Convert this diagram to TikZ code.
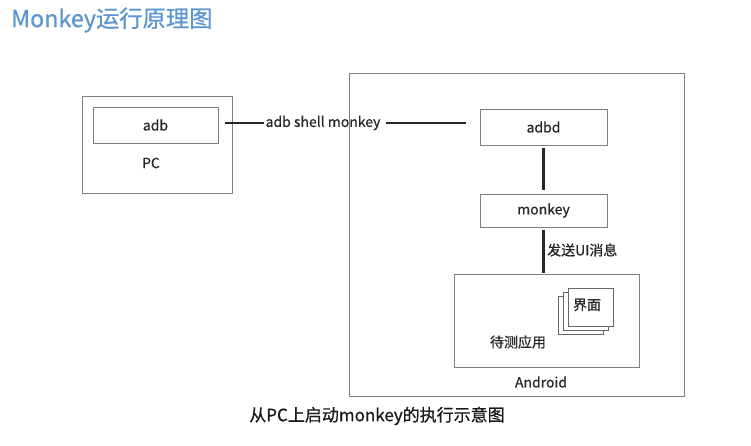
\documentclass[tikz,border=0pt]{standalone}
\usepackage{fontspec}
\setmainfont{Noto Sans CJK SC}[FakeBold=0.6]
\begin{document}
\begin{tikzpicture}[x=1pt,y=-1pt,
  box/.style={draw=black!50, line width=0.9pt, rectangle, inner sep=0pt, font=\fontsize{14}{16}\selectfont, text=black!85},
  page/.style={draw=black!60, line width=0.9pt, fill=white, rectangle, inner sep=0pt, minimum width=45pt, minimum height=38pt},
  conn/.style={draw=black!85, line width=2.1pt},
  lbl/.style={font=\fontsize{14}{16}\selectfont, text=black!85, inner sep=1pt}]
\useasboundingbox (0,0) rectangle (751,446);
\fill[white] (0,0) rectangle (751,446);
% title
\node[anchor=west, text={rgb,255:red,91;green,150;blue,210}, font=\fontsize{23.3}{26}\selectfont, inner sep=0pt] (title) at (11,20) {Monkey运行原理图};
% PC
\node[box, minimum width=150pt, minimum height=97pt] (pc) at (157,145) {};
\node[box, minimum width=125pt, minimum height=36pt] (adb) at (155.5,125) {adb};
\node[lbl] (pclbl) at (151,163) {PC};
% Android
\node[box, minimum width=335pt, minimum height=323pt] (android) at (516.5,235) {};
\node[box, minimum width=127pt, minimum height=36pt] (adbd) at (543.5,127) {adbd};
\node[box, minimum width=127pt, minimum height=33pt] (monkey) at (543.5,210.5) {monkey};
\node[box, minimum width=185pt, minimum height=93pt] (app) at (546.5,320.5) {};
\node[page] (p3) at (580.5,315) {};
\node[page] (p2) at (585.5,311) {};
\node[page] (p1) at (590.5,307) {};
\node[lbl] (jm) at (587,305) {界面};
\node[lbl] (dcyy) at (518,342) {待测应用};
\node[lbl] (andlbl) at (541,382) {Android};
% command line
\node[lbl, inner sep=1pt] (cmd) at (323,123) {adb shell monkey};
\draw[conn, shorten <=7pt] (adb.east |- cmd.west) -- (cmd.west);
\draw[conn, shorten <=4pt, shorten >=14pt] (cmd.east) -- (cmd.east -| adbd.west);
\draw[conn, shorten <=3pt, shorten >=4pt] (adbd.south) -- (monkey.north);
\draw[conn, shorten <=3pt, shorten >=1pt] (monkey.south) -- (monkey.south |- app.north);
\node[lbl, anchor=west] (send) at (546,250) {发送UI消息};
% caption
\node[font=\fontsize{17}{19}\selectfont, text=black!90] (cap) at (377,416) {从PC上启动monkey的执行示意图};
\end{tikzpicture}
\end{document}
